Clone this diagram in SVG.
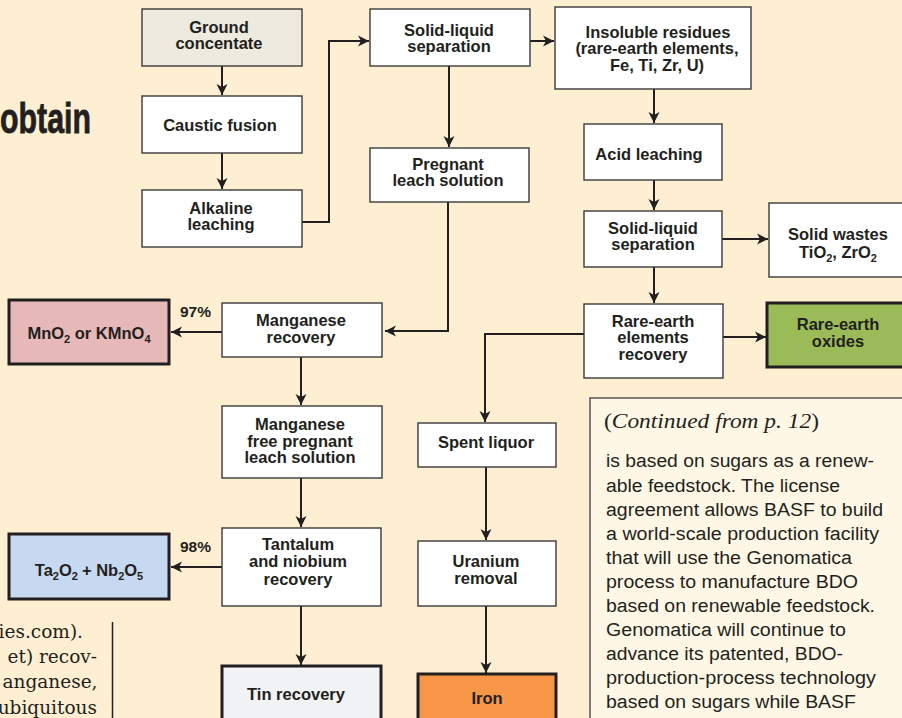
<svg xmlns="http://www.w3.org/2000/svg" width="902" height="718" viewBox="0 0 902 718">
<defs>
<style>
.bx{fill:#fff;stroke:#3a3a3a;stroke-width:1.4}
.tk{stroke:#231f20;stroke-width:3}
.t{font-family:"Liberation Sans",Arial,sans-serif;font-weight:bold;font-size:16.5px;fill:#231f20;text-anchor:middle}
.pc{font-family:"Liberation Sans",Arial,sans-serif;font-weight:bold;font-size:15.5px;fill:#231f20}
.body{font-family:"Liberation Sans",Arial,sans-serif;font-size:18px;fill:#231f20}
.serif{font-family:"DejaVu Serif","Liberation Serif",serif;font-size:18.5px;fill:#231f20;text-anchor:end}
.c path{fill:none;stroke:#231f20;stroke-width:2;marker-end:url(#ah)}
.sub{font-size:11px}
</style>
<marker id="ah" viewBox="0 0 12 12" markerUnits="userSpaceOnUse" markerWidth="12" markerHeight="12" refX="11" refY="6" orient="auto">
<path d="M0,0.5 L11,6 L0,11.5 L3,6 z" fill="#231f20"/>
</marker>
</defs>
<rect x="0" y="0" width="902" height="718" fill="#feefd2"/>

<text x="0" y="133" font-family="Liberation Sans,Arial,sans-serif" font-weight="bold" font-size="43" fill="#231f20" stroke="#231f20" stroke-width="0.8" textLength="91" lengthAdjust="spacingAndGlyphs">obtain</text>

<g id="leftcol">
<text class="serif" x="83" y="638">ies.com).</text>
<text class="serif" x="97" y="663">et)  recov-</text>
<text class="serif" x="97.5" y="688">anganese,</text>
<text class="serif" x="97" y="714">ubiquitous</text>
<line x1="112.5" y1="622" x2="112.5" y2="718" stroke="#231f20" stroke-width="1.5"/>
</g>

<g id="sidebar">
<rect x="590" y="398" width="320" height="330" fill="#fff7e6" stroke="#555" stroke-width="1.5"/>
<text x="604" y="428" font-family="Liberation Serif,'DejaVu Serif',serif" font-size="20" fill="#231f20" textLength="215" lengthAdjust="spacingAndGlyphs">(<tspan font-style="italic">Continued from p. 12</tspan>)</text>
<text class="body" x="606" y="467" textLength="268" lengthAdjust="spacingAndGlyphs">is based on sugars as a renew-</text>
<text class="body" x="606" y="491.5" textLength="234" lengthAdjust="spacingAndGlyphs">able feedstock. The license</text>
<text class="body" x="606" y="515.5" textLength="277" lengthAdjust="spacingAndGlyphs">agreement allows BASF to build</text>
<text class="body" x="606" y="539.5" textLength="273" lengthAdjust="spacingAndGlyphs">a world-scale production facility</text>
<text class="body" x="606" y="563.5" textLength="246" lengthAdjust="spacingAndGlyphs">that will use the Genomatica</text>
<text class="body" x="606" y="587.5" textLength="252" lengthAdjust="spacingAndGlyphs">process to manufacture BDO</text>
<text class="body" x="606" y="611.5" textLength="269" lengthAdjust="spacingAndGlyphs">based on renewable feedstock.</text>
<text class="body" x="606" y="635.5" textLength="240" lengthAdjust="spacingAndGlyphs">Genomatica will continue to</text>
<text class="body" x="606" y="659.5" textLength="237" lengthAdjust="spacingAndGlyphs">advance its patented, BDO-</text>
<text class="body" x="606" y="683.5" textLength="270" lengthAdjust="spacingAndGlyphs">production-process technology</text>
<text class="body" x="606" y="707.5" textLength="250" lengthAdjust="spacingAndGlyphs">based on sugars while BASF</text>
</g>

<g id="connectors" class="c">
<path d="M222,66 V95"/>
<path d="M222,153 V189"/>
<path d="M302,222 H329 V41 H369"/>
<path d="M530,41 H554"/>
<path d="M449,66 V147"/>
<path d="M654,89 V123"/>
<path d="M654,180 V210"/>
<path d="M722,239 H768"/>
<path d="M654,267 V303"/>
<path d="M723,337 H766"/>
<path d="M584,334 H485 V422"/>
<path d="M448,202 V331 H385"/>
<path d="M222,332 H171"/>
<path d="M301,357 V405"/>
<path d="M301,478 V527"/>
<path d="M222,567 H171"/>
<path d="M301,606 V665"/>
<path d="M486,467 V540"/>
<path d="M486,606 V673"/>
</g>

<g id="n-ground"><rect class="bx" x="142" y="9" width="160" height="57" style="fill:#edeadf"/><text class="t" x="219" y="32.5">Ground</text><text class="t" x="219" y="49">concentate</text></g>
<g id="n-caustic"><rect class="bx" x="142" y="96" width="160" height="57"/><text class="t" x="220" y="130.5">Caustic fusion</text></g>
<g id="n-alkaline"><rect class="bx" x="142" y="190" width="160" height="57"/><text class="t" x="221" y="213.5">Alkaline</text><text class="t" x="221" y="230">leaching</text></g>
<g id="n-sl1"><rect class="bx" x="370" y="9" width="160" height="57"/><text class="t" x="449" y="35.5">Solid-liquid</text><text class="t" x="449" y="52">separation</text></g>
<g id="n-insoluble"><rect class="bx" x="555" y="7" width="196" height="82"/><text class="t" x="658" y="37.5">Insoluble residues</text><text class="t" x="657" y="54">(rare-earth elements,</text><text class="t" x="657" y="70.5">Fe, Ti, Zr, U)</text></g>
<g id="n-pregnant"><rect class="bx" x="370" y="148" width="159" height="54"/><text class="t" x="448" y="169.5">Pregnant</text><text class="t" x="448" y="186">leach solution</text></g>
<g id="n-acid"><rect class="bx" x="584" y="124" width="138" height="56"/><text class="t" x="649" y="159.5">Acid leaching</text></g>
<g id="n-sl2"><rect class="bx" x="584" y="211" width="138" height="56"/><text class="t" x="653" y="233.5">Solid-liquid</text><text class="t" x="653" y="250">separation</text></g>
<g id="n-wastes"><rect class="bx" x="769" y="203" width="140" height="74"/><text class="t" x="838" y="240">Solid wastes</text><text class="t" x="838" y="258">TiO<tspan class="sub" dy="4">2</tspan><tspan dy="-4">, ZrO</tspan><tspan class="sub" dy="4">2</tspan></text></g>
<g id="n-rerec"><rect class="bx" x="584" y="304" width="139" height="74"/><text class="t" x="653" y="326.5">Rare-earth</text><text class="t" x="653" y="343">elements</text><text class="t" x="653" y="360">recovery</text></g>
<g id="n-reox"><rect class="bx tk" x="767" y="303" width="142" height="64" style="fill:#9bbb59"/><text class="t" x="838" y="330">Rare-earth</text><text class="t" x="838" y="346.5">oxides</text></g>
<g id="n-mnrec"><rect class="bx" x="222" y="303" width="160" height="54"/><text class="t" x="301" y="325.5">Manganese</text><text class="t" x="301" y="343">recovery</text></g>
<g id="n-mno2"><rect class="bx tk" x="9" y="300" width="160" height="64" style="fill:#e6b9b8"/><text class="t" x="89" y="339">MnO<tspan class="sub" dy="4">2</tspan><tspan dy="-4"> or KMnO</tspan><tspan class="sub" dy="4">4</tspan></text></g>
<text class="pc" x="180" y="316.5">97%</text>
<g id="n-mnfree"><rect class="bx" x="222" y="406" width="160" height="72"/><text class="t" x="300" y="430">Manganese</text><text class="t" x="300" y="446.5">free pregnant</text><text class="t" x="300" y="463">leach solution</text></g>
<g id="n-spent"><rect class="bx" x="418" y="423" width="138" height="44"/><text class="t" x="486" y="448">Spent liquor</text></g>
<g id="n-tant"><rect class="bx" x="222" y="528" width="159" height="78"/><text class="t" x="298" y="550">Tantalum</text><text class="t" x="298" y="567">and niobium</text><text class="t" x="298" y="584.5">recovery</text></g>
<g id="n-ta2o2"><rect class="bx tk" x="9" y="534" width="160" height="65" style="fill:#c6d9f0"/><text class="t" x="89" y="576">Ta<tspan class="sub" dy="4">2</tspan><tspan dy="-4">O</tspan><tspan class="sub" dy="4">2</tspan><tspan dy="-4" dx="4">+ Nb</tspan><tspan class="sub" dy="4">2</tspan><tspan dy="-4">O</tspan><tspan class="sub" dy="4">5</tspan></text></g>
<text class="pc" x="180" y="551.5">98%</text>
<g id="n-tin"><rect class="bx tk" x="222" y="666" width="159" height="62" style="fill:#f1f2f4"/><text class="t" x="296" y="700">Tin recovery</text></g>
<g id="n-uranium"><rect class="bx" x="418" y="541" width="138" height="65"/><text class="t" x="486" y="567">Uranium</text><text class="t" x="486" y="584">removal</text></g>
<g id="n-iron"><rect class="bx tk" x="418" y="674" width="138" height="60" style="fill:#f79646"/><text class="t" x="487" y="703.5">Iron</text></g>
</svg>
